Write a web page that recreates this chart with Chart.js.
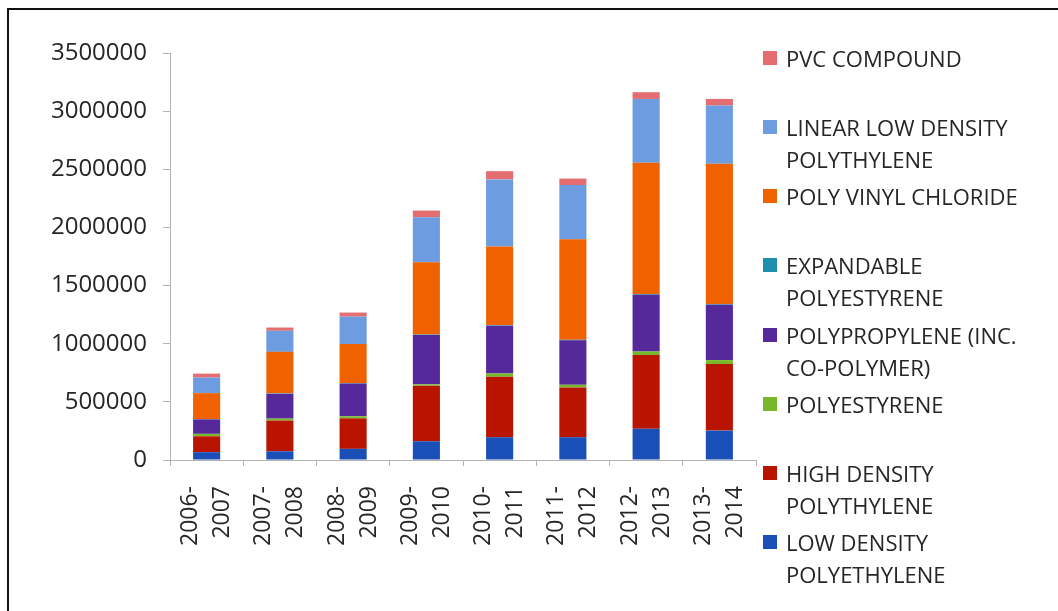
<!DOCTYPE html>
<html>
<head>
<meta charset="utf-8">
<script src="https://cdn.jsdelivr.net/npm/chart.js@4/dist/chart.umd.min.js"></script>
<style>
  html, body { margin: 0; background: #fff; }
  #wrap { position: relative; width: 1058px; height: 611px; overflow: hidden; }
  #frame { position: absolute; left: 7px; top: 8px; right: -10px; bottom: -10px; border-top: 2px solid #111; border-left: 2px solid #111; }
  #chart { position: absolute; left: 0; top: 0; }
  #legend { position: absolute; left: 763px; top: 42px; font: 22px 'Open Sans', sans-serif; color: #262626; }
  .item { position: relative; height: 69.14px; }
  .item i { position: absolute; left: 0; top: 9px; width: 14px; height: 14px; }
  .item span { display: block; margin-left: 23px; line-height: 32px; white-space: nowrap; }
</style>
</head>
<body>
<div id="wrap">
  <div id="frame"></div>
  <canvas id="chart" width="1058" height="611"></canvas>
  <div id="legend"></div>
</div>
<script>
// years on the x axis, two lines each
const periods = [
  ['2006-', '2007'], ['2007-', '2008'], ['2008-', '2009'], ['2009-', '2010'],
  ['2010-', '2011'], ['2011-', '2012'], ['2012-', '2013'], ['2013-', '2014'],
];

// consumption per polymer, bottom of the stack first
const ldpe = [67000, 75000, 96000, 161000, 196000, 196000, 268000, 253000];
const hdpe = [137000, 264000, 262000, 478000, 520000, 428000, 634000, 572000];
const ps = [21000, 17000, 18000, 12000, 28000, 23000, 31000, 34000];
const pp = [124000, 213000, 282000, 423000, 411000, 382000, 488000, 477000];
const eps = [3000, 4000, 4000, 5000, 5000, 5000, 6000, 6000];
const pvc = [223000, 357000, 335000, 622000, 675000, 864000, 1129000, 1205000];
const lldpe = [134000, 181000, 236000, 386000, 578000, 466000, 549000, 501000];
const pvcCompound = [34000, 28000, 35000, 58000, 71000, 56000, 58000, 57000];

const yTicks = [0, 500000, 1000000, 1500000, 2000000, 2500000, 3000000, 3500000];

// [legend lines, values, colour]
const series = [
  [['LOW DENSITY', 'POLYETHYLENE'], ldpe, '#1a4fb8'],
  [['HIGH DENSITY', 'POLYTHYLENE'], hdpe, '#b81400'],
  [['POLYESTYRENE'], ps, '#76b82a'],
  [['POLYPROPYLENE (INC.', 'CO-POLYMER)'], pp, '#55299a'],
  [['EXPANDABLE', 'POLYESTYRENE'], eps, '#1f8fae'],
  [['POLY VINYL CHLORIDE'], pvc, '#f06200'],
  [['LINEAR LOW DENSITY', 'POLYTHYLENE'], lldpe, '#6d9de0'],
  [['PVC COMPOUND'], pvcCompound, '#e36d70'],
];

const datasets = series.map(([lines, data, color]) => ({
  label: lines.join(' '), lines, data, backgroundColor: color,
  categoryPercentage: 1, barPercentage: 0.37,
}));

const axisColor = '#b3b3b3';
const font = (size, lineHeight) => ({ family: "'Open Sans', sans-serif", size, lineHeight });

const chart = new Chart(document.getElementById('chart'), {
  type: 'bar',
  data: { labels: periods, datasets },
  options: {
    responsive: false, animation: false, devicePixelRatio: 1,
    layout: { padding: { top: 53, right: 302, left: 0, bottom: 0 } },
    plugins: { legend: { display: false }, tooltip: { enabled: false } },
    scales: {
      x: {
        stacked: true,
        afterFit: (s) => { s.height = 151; },
        border: { color: axisColor },
        grid: { drawOnChartArea: false, tickLength: 6, color: axisColor },
        ticks: {
          minRotation: 90, maxRotation: 90, padding: 20, labelOffset: -16,
          color: '#262626', font: font(23, 1.39),
        },
      },
      y: {
        stacked: true, min: yTicks[0], max: yTicks[yTicks.length - 1],
        afterFit: (s) => { s.width = 170; },
        afterBuildTicks: (s) => { s.ticks = yTicks.map((v) => ({ value: v })); },
        border: { color: axisColor },
        grid: { drawOnChartArea: false, tickLength: 7, color: axisColor },
        ticks: { padding: 16, color: '#262626', font: font(24), callback: (v) => String(v) },
      },
    },
  },
});

// legend on the right, top entry = top of the stack
document.getElementById('legend').innerHTML = chart.data.datasets.slice().reverse()
  .map((d) => `<div class="item"><i style="background:${d.backgroundColor}"></i>${d.lines.map((l) => `<span>${l}</span>`).join('')}</div>`)
  .join('');
</script>
</body>
</html>
